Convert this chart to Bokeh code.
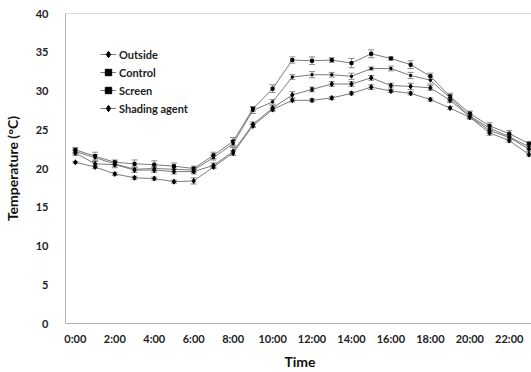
from bokeh.plotting import figure
from bokeh.models import (ColumnDataSource, Whisker, TeeHead, FixedTicker, Span,
                          Legend, LegendItem, Range1d)
from bokeh.embed import file_html
from bokeh.resources import INLINE

hours = list(range(24))
tick_hours = list(range(0, 24, 2))
tick_labels = [f"{h}:00" for h in tick_hours]

outside = [20.8, 20.2, 19.3, 18.8, 18.7, 18.3, 18.4, 20.2, 22.0, 25.5, 27.6, 28.8,
           28.8, 29.1, 29.7, 30.5, 30.0, 29.7, 28.9, 27.8, 26.6, 24.6, 23.6, 21.8]
control = [22.4, 21.6, 20.8, 20.6, 20.5, 20.3, 20.0, 21.7, 23.5, 27.7, 30.3, 34.0,
           33.9, 34.0, 33.6, 34.8, 34.2, 33.4, 31.9, 29.3, 27.1, 25.5, 24.5, 23.2]
screen = [22.2, 21.4, 20.6, 19.9, 20.0, 19.9, 19.8, 21.4, 23.2, 27.5, 28.6, 31.8,
          32.1, 32.1, 31.9, 32.9, 32.9, 32.0, 31.4, 29.1, 26.8, 25.2, 24.1, 22.8]
shading = [22.0, 20.6, 20.5, 19.8, 19.8, 19.6, 19.6, 20.4, 22.2, 25.7, 27.8, 29.5,
           30.2, 30.9, 30.9, 31.7, 30.7, 30.6, 30.4, 28.8, 26.7, 24.9, 24.0, 22.5]

err_outside = [0.1, 0.2, 0.2, 0.2, 0.2, 0.2, 0.4, 0.2, 0.3, 0.2, 0.2, 0.2,
               0.2, 0.2, 0.2, 0.3, 0.2, 0.2, 0.2, 0.2, 0.2, 0.3, 0.2, 0.2]
err_control = [0.3, 0.5, 0.3, 0.5, 0.5, 0.4, 0.3, 0.4, 0.5, 0.3, 0.5, 0.4,
               0.5, 0.3, 0.6, 0.5, 0.2, 0.5, 0.4, 0.4, 0.3, 0.4, 0.4, 0.3]
err_screen = [0.3, 0.4, 0.3, 0.4, 0.3, 0.3, 0.3, 0.3, 0.4, 0.4, 0.3, 0.3,
              0.4, 0.3, 0.4, 0.2, 0.3, 0.4, 0.5, 0.4, 0.3, 0.3, 0.3, 0.3]
err_shading = [0.3, 0.3, 0.4, 0.3, 0.3, 0.3, 0.3, 0.3, 0.5, 0.3, 0.3, 0.4,
               0.3, 0.3, 0.3, 0.3, 0.3, 0.4, 0.3, 0.3, 0.3, 0.3, 0.3, 0.3]

series = [
    ("Outside", outside, err_outside, "diamond", 5),
    ("Control", control, err_control, "square", 3),
    ("Screen", screen, err_screen, "square", 2),
    ("Shading agent", shading, err_shading, "diamond", 5),
]

FONT = "Lato"
p = figure(frame_width=469, frame_height=310, output_backend="svg", toolbar_location=None,
           x_range=Range1d(-0.5, 23.28), y_range=Range1d(0, 40),
           min_border_left=62, min_border_right=0, min_border_top=13, min_border_bottom=49)
p.outline_line_color = None
p.xgrid.grid_line_color = None
p.ygrid.grid_line_color = None
p.background_fill_color = "white"
p.border_fill_color = "white"

items = []
for name, vals, errs, marker, size in series:
    src = ColumnDataSource(dict(x=hours, y=vals,
                                lo=[v - e for v, e in zip(vals, errs)],
                                hi=[v + e for v, e in zip(vals, errs)]))
    w = Whisker(source=src, base="x", lower="lo", upper="hi", line_color="#8a8a8a",
                line_width=1,
                upper_head=TeeHead(size=6, line_color="#8a8a8a", line_width=1),
                lower_head=TeeHead(size=6, line_color="#8a8a8a", line_width=1))
    p.add_layout(w)
    ln = p.line("x", "y", source=src, line_color="#7a7a7a", line_width=1)
    sc = p.scatter("x", "y", source=src, marker=marker, size=size,
                   fill_color="black", line_color="black")
    items.append(LegendItem(label=name, renderers=[ln, sc]))

p.add_layout(Span(location=40, dimension="width", line_color="#b3b3b3", line_width=1))

legend = Legend(items=items, location=(35, 207), orientation="vertical",
                label_text_font=FONT, label_text_font_style="bold",
                label_text_font_size="11px", label_text_color="#222222",
                glyph_width=16, glyph_height=16, label_height=16, spacing=2,
                label_standoff=3, padding=0, margin=0,
                border_line_color=None, background_fill_alpha=0)
p.add_layout(legend, "center")

for ax in (p.xaxis[0], p.yaxis[0]):
    ax.axis_line_color = "#b3b3b3"
    ax.major_tick_line_color = None
    ax.minor_tick_line_color = None
    ax.major_tick_out = 0
    ax.major_tick_in = 0
    ax.minor_tick_out = 0
    ax.minor_tick_in = 0
    ax.major_label_text_font = FONT
    ax.major_label_text_font_style = "bold"
    ax.major_label_text_font_size = "11px"
    ax.major_label_text_color = "#222222"
    ax.axis_label_text_font = FONT
    ax.axis_label_text_font_style = "bold"
    ax.axis_label_text_font_size = "14px"
    ax.axis_label_text_color = "#111111"

p.xaxis.ticker = FixedTicker(ticks=tick_hours)
p.xaxis.major_label_overrides = {h: lab for h, lab in zip(tick_hours, tick_labels)}
p.xaxis.major_label_standoff = 8
p.xaxis.axis_label = "Time"
p.xaxis.axis_label_standoff = 5

p.yaxis.ticker = FixedTicker(ticks=[0, 5, 10, 15, 20, 25, 30, 35, 40])
p.yaxis.major_label_standoff = 17
p.yaxis.axis_label = "Temperature (°C)"
p.yaxis.axis_label_standoff = 12

open("out.html", "w").write(file_html(p, INLINE))
